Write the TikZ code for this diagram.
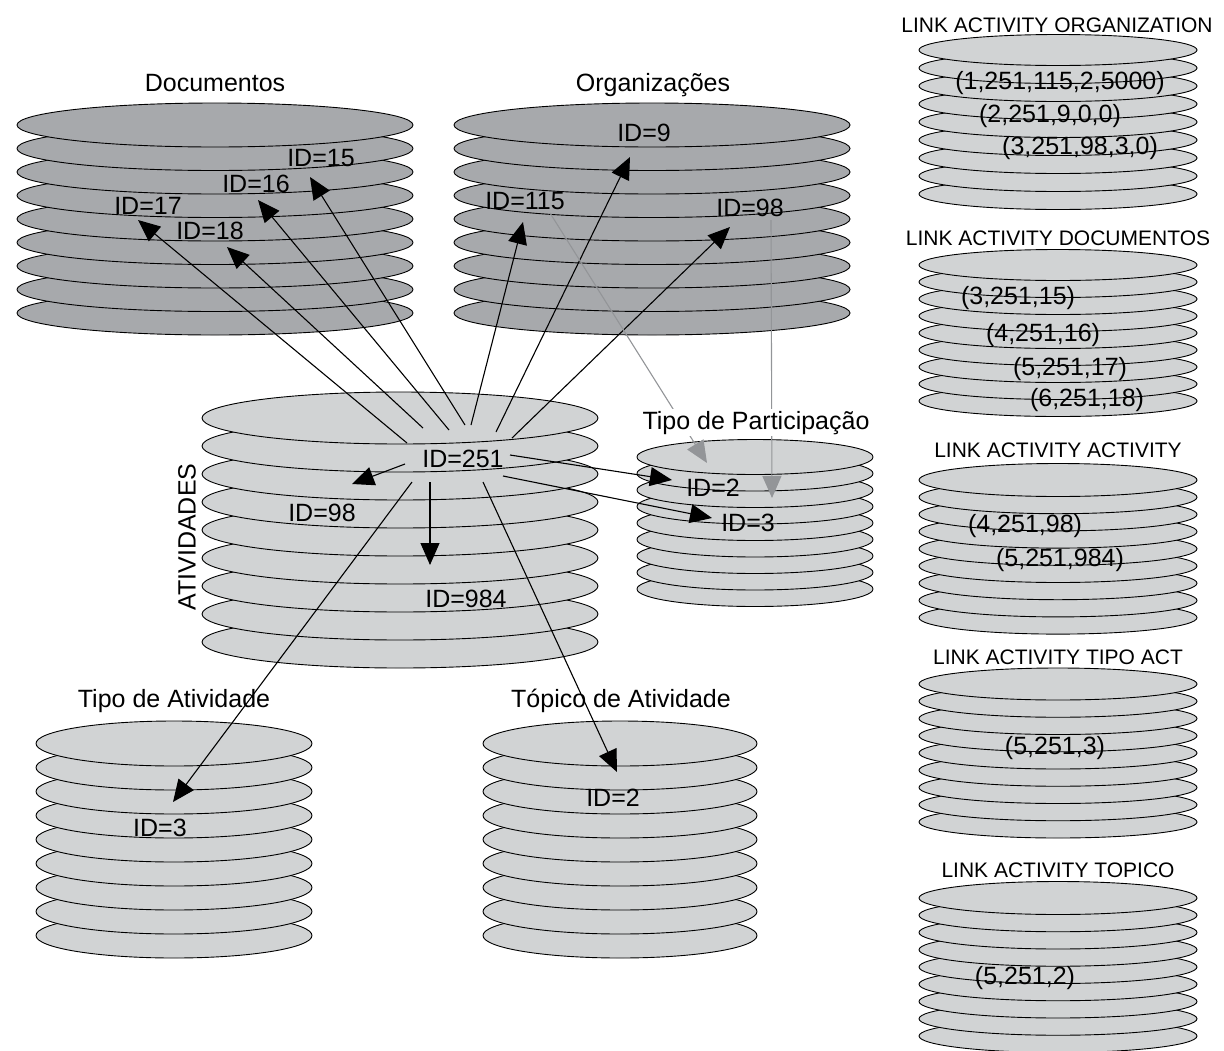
\documentclass[tikz,border=0pt]{standalone}
\usepackage{fontspec}
\setmainfont{Liberation Sans}
\usetikzlibrary{arrows.meta}
\definecolor{darkdisk}{HTML}{A7A9AC}
\definecolor{lightdisk}{HTML}{D1D3D4}
\definecolor{grayarrow}{HTML}{939598}
\tikzset{
  disk/.style={draw=black, line width=0.9pt},
  lbl/.style={font=\fontsize{25}{30}\selectfont, inner sep=0pt, anchor=base, yshift=-9pt},
  ttl/.style={font=\fontsize{21}{25}\selectfont, inner sep=0pt, anchor=base, yshift=-7.5pt},
  arrowblk/.style={draw=black, line width=1.1pt, -{Triangle[length=22pt,width=19pt]}},
  arrowgry/.style={draw=grayarrow, line width=1.1pt, -{Triangle[length=22pt,width=19pt]}},
}
% cx, top cy, rx, ry, dy, fill
\newcommand{\diskstack}[6]{%
  \foreach \k in {8,7,...,0}{%
    \draw[disk, fill=#6] (#1, {#2+\k*#5}) ellipse [x radius=#3pt, y radius=#4pt];
  }%
}
\begin{document}
\begin{tikzpicture}[x=1pt,y=-1pt]
\useasboundingbox (0,0) rectangle (1224,1050);

% ---- stacks ----
\diskstack{215}{125}{198}{22}{23.5}{darkdisk}
\diskstack{652}{125}{198}{22}{23.5}{darkdisk}
\diskstack{400}{418}{198}{26}{28}{lightdisk}
\diskstack{755}{457}{118}{17.5}{16.5}{lightdisk}
\diskstack{174}{743.5}{138}{22.5}{24}{lightdisk}
\diskstack{620}{743.5}{137}{22.5}{24}{lightdisk}
\diskstack{1058}{50}{139}{15.5}{18}{lightdisk}
\diskstack{1058}{265}{139}{15.5}{17}{lightdisk}
\diskstack{1058}{480}{139}{16.5}{17.2}{lightdisk}
\diskstack{1058}{684}{139}{16}{17.25}{lightdisk}
\diskstack{1058}{898}{139}{16.5}{17.25}{lightdisk}

% ---- labels ----
\node[lbl] (tdoc) at (215,82) {Documentos};
\node[lbl] (torg) at (653,82) {Organizações};
\node[lbl] (d15) at (321,157) {ID=15};
\node[lbl] (d16) at (256,183) {ID=16};
\node[lbl] (d17) at (148,205) {ID=17};
\node[lbl] (d18) at (210,230) {ID=18};
\node[lbl] (o9) at (644,132) {ID=9};
\node[lbl] (o115) at (525,200) {ID=115};
\node[lbl] (o98) at (750,207) {ID=98};
\node[lbl] (a251) at (463,458) {ID=251};
\node[lbl] (a98) at (322,512) {ID=98};
\node[lbl] (a984) at (466,598) {ID=984};
\node[font=\fontsize{25}{30}\selectfont, inner sep=0pt, rotate=90] (tatv) at (187,537) {ATIVIDADES};
\node[lbl] (p2) at (713,487) {ID=2};
\node[lbl] (p3) at (748,522) {ID=3};
\node[lbl] (tta) at (174,698) {Tipo de Atividade};
\node[lbl] (ta3) at (160,827) {ID=3};
\node[lbl] (ttop) at (621,698) {Tópico de Atividade};
\node[lbl] (tp2) at (613,797) {ID=2};

\node[ttl] (lorg) at (1057,25) {LINK ACTIVITY ORGANIZATION};
\node[lbl] (lo1) at (1060,80) {(1,251,115,2,5000)};
\node[lbl] (lo2) at (1050,113) {(2,251,9,0,0)};
\node[lbl] (lo3) at (1080,145) {(3,251,98,3,0)};
\node[ttl] (ldoc) at (1058,238) {LINK ACTIVITY DOCUMENTOS};
\node[lbl] (ld1) at (1018,295) {(3,251,15)};
\node[lbl] (ld2) at (1043,332) {(4,251,16)};
\node[lbl] (ld3) at (1070,366) {(5,251,17)};
\node[lbl] (ld4) at (1087,397) {(6,251,18)};
\node[ttl] (lact) at (1058,450) {LINK ACTIVITY ACTIVITY};
\node[lbl] (la1) at (1025,523) {(4,251,98)};
\node[lbl] (la2) at (1060,557) {(5,251,984)};
\node[ttl] (ltip) at (1058,657) {LINK ACTIVITY TIPO ACT};
\node[lbl] (lt1) at (1055,745) {(5,251,3)};
\node[ttl] (ltop) at (1058,870) {LINK ACTIVITY TOPICO};
\node[lbl] (lp1) at (1025,975) {(5,251,2)};

% ---- connector end points ----
\coordinate (s17) at (407,443);  \coordinate (e17) at (138,220);
\coordinate (s18) at (423,428);  \coordinate (e18) at (227,247);
\coordinate (s16) at (449,430);  \coordinate (e16) at (258,200);
\coordinate (s15) at (465,425);  \coordinate (e15) at (310,177);
\coordinate (s115) at (471,425); \coordinate (e115) at (523,222);
\coordinate (s9) at (496,432);   \coordinate (e9) at (630,157);
\coordinate (so98) at (512,438); \coordinate (eo98) at (730,227);
\coordinate (sa98) at (405,464); \coordinate (ea98) at (352,484);
\coordinate (s984) at (430,482); \coordinate (e984) at (430,565);
\coordinate (sta) at (412,482);  \coordinate (eta) at (173,802);
\coordinate (stp) at (483,482);  \coordinate (etp) at (617,772);
\coordinate (sp2) at (510,455);  \coordinate (ep2) at (672,480);
\coordinate (sp3) at (503,476);  \coordinate (ep3) at (712,518);
\coordinate (sg1) at (550,213);  \coordinate (eg1) at (707,463);
\coordinate (sg2) at (771,220);  \coordinate (eg2) at (772,498);

% ---- connectors ----
\draw[arrowblk] (s17) -- (e17);
\draw[arrowblk] (s18) -- (e18);
\draw[arrowblk] (s16) -- (e16);
\draw[arrowblk] (s15) -- (e15);
\draw[arrowblk] (s115) -- (e115);
\draw[arrowblk] (s9) -- (e9);
\draw[arrowblk] (so98) -- (eo98);
\draw[arrowblk] (sa98) -- (ea98);
\draw[arrowblk] (s984) -- (e984);
\draw[arrowblk] (sta) -- (eta);
\draw[arrowblk] (stp) -- (etp);
\draw[arrowblk] (sp2) -- (ep2);
\draw[arrowblk] (sp3) -- (ep3);
\draw[arrowgry] (sg1) -- (eg1);
\draw[arrowgry] (sg2) -- (eg2);

\node[font=\fontsize{25}{30}\selectfont, inner sep=1.5pt, anchor=base, yshift=-9pt, fill=white] (tpart) at (756,420) {Tipo de Participação};
\end{tikzpicture}
\end{document}
